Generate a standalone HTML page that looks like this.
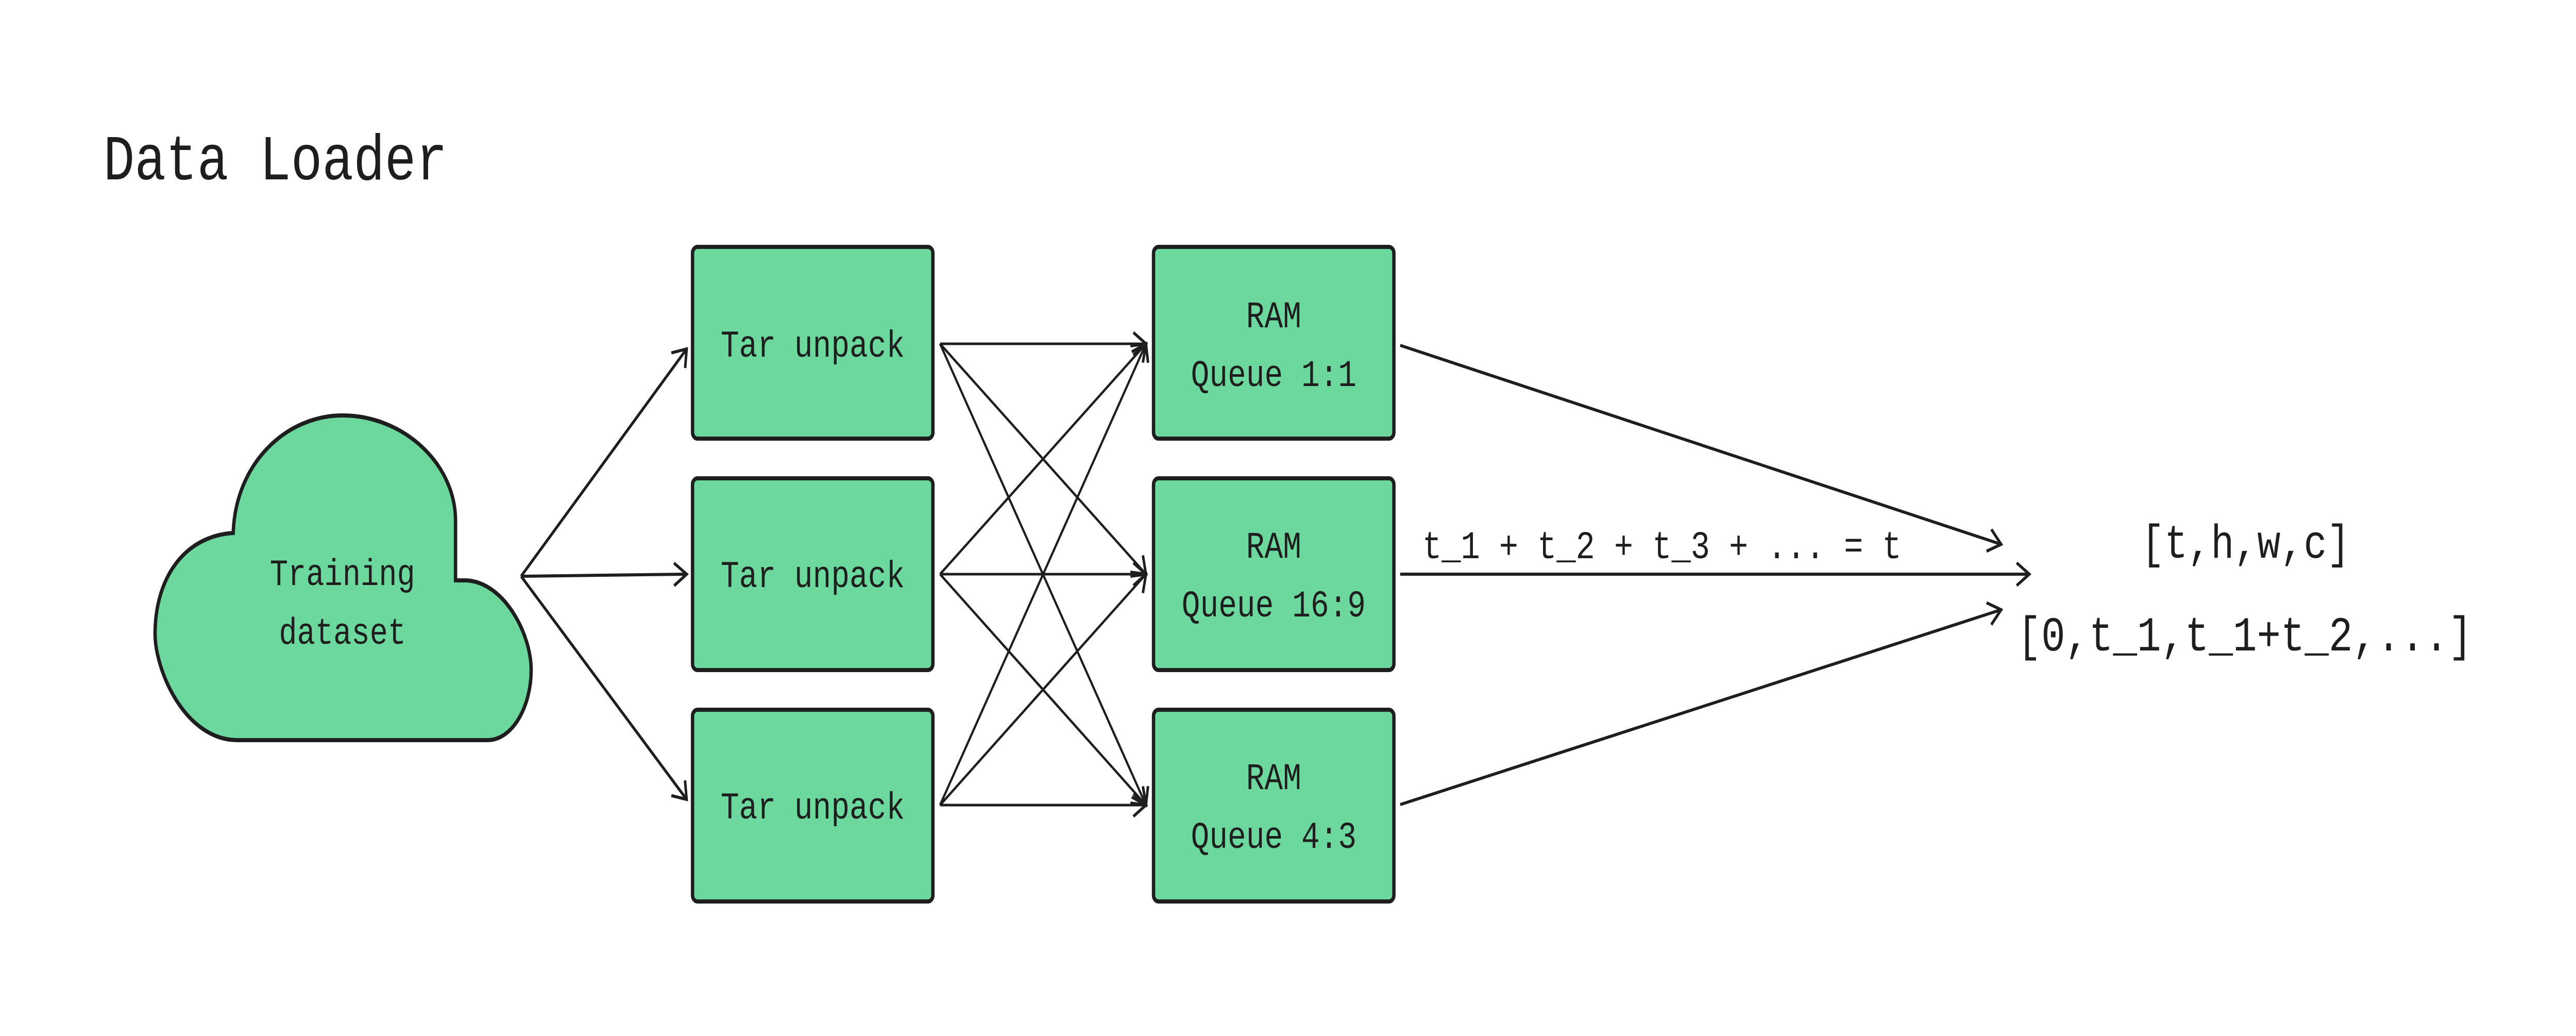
<!DOCTYPE html>
<html><head><meta charset="utf-8"><style>
html,body{margin:0;padding:0;background:#fff;overflow:hidden;width:100%;height:100%}
svg{display:block;width:100vw;height:100vh}
text{font-family:"Liberation Mono",monospace;fill:#1e1e1e}
</style></head><body>
<svg viewBox="0 0 6130 2010" preserveAspectRatio="none" xmlns="http://www.w3.org/2000/svg">
<defs>
<marker id="a" markerUnits="userSpaceOnUse" markerWidth="80" markerHeight="80" refX="60" refY="40" orient="auto">
<path d="M30,18 L60,40 L30,62" fill="none" stroke="#1e1e1e" stroke-width="6"/>
</marker>
</defs>
<rect width="6130" height="2010" fill="#fff"/>
<text x="246" y="348" font-size="124">Data Loader</text>

<path d="M555,1034 C560,900 680,806 815,806 C960,806 1084,900 1084,1010 L1084,1126 L1110,1126 C1200,1130 1264,1230 1264,1300 C1264,1370 1220,1436 1160,1436 L565,1436 C440,1436 369,1300 369,1230 C369,1120 440,1040 555,1034 Z" fill="#6cd89d" stroke="#1e1e1e" stroke-width="8"/>
<text x="815" y="1135" font-size="72" text-anchor="middle">Training</text>
<text x="815" y="1249" font-size="72" text-anchor="middle">dataset</text>

<g fill="#6cd89d" stroke="#1e1e1e" stroke-width="8">
<rect x="1648" y="479" width="572" height="372" rx="12"/>
<rect x="1648" y="928" width="572" height="372" rx="12"/>
<rect x="1648" y="1377" width="572" height="372" rx="12"/>
<rect x="2745" y="479" width="572" height="372" rx="12"/>
<rect x="2745" y="928" width="572" height="372" rx="12"/>
<rect x="2745" y="1377" width="572" height="372" rx="12"/>
</g>
<g font-size="73" text-anchor="middle">
<text x="1934" y="692">Tar unpack</text>
<text x="1934" y="1139">Tar unpack</text>
<text x="1934" y="1588">Tar unpack</text>
<text x="3031" y="635">RAM</text>
<text x="3031" y="749">Queue 1:1</text>
<text x="3031" y="1082">RAM</text>
<text x="3031" y="1196">Queue 16:9</text>
<text x="3031" y="1531">RAM</text>
<text x="3031" y="1645">Queue 4:3</text>
</g>

<g stroke="#1e1e1e" stroke-width="6" fill="none" marker-end="url(#a)">
<line x1="1240" y1="1118" x2="1634" y2="677"/>
<line x1="1240" y1="1118" x2="1634" y2="1114"/>
<line x1="1240" y1="1118" x2="1634" y2="1551"/>
</g>
<g stroke="#1e1e1e" stroke-width="5" fill="none" marker-end="url(#a)">
<line x1="2237" y1="667" x2="2727" y2="667"/>
<line x1="2237" y1="667" x2="2727" y2="1114"/>
<line x1="2237" y1="667" x2="2727" y2="1562"/>
<line x1="2237" y1="1114" x2="2727" y2="667"/>
<line x1="2237" y1="1114" x2="2727" y2="1114"/>
<line x1="2237" y1="1114" x2="2727" y2="1562"/>
<line x1="2237" y1="1562" x2="2727" y2="667"/>
<line x1="2237" y1="1562" x2="2727" y2="1114"/>
<line x1="2237" y1="1562" x2="2727" y2="1562"/>
</g>
<g stroke="#1e1e1e" stroke-width="6" fill="none" marker-end="url(#a)">
<line x1="3332" y1="670" x2="4762" y2="1056"/>
<line x1="3332" y1="1114" x2="4829" y2="1114"/>
<line x1="3332" y1="1561" x2="4762" y2="1183"/>
</g>
<text x="3385" y="1083" font-size="76">t_1 + t_2 + t_3 + ... = t</text>
<text x="5344" y="1082" font-size="92" text-anchor="middle">[t,h,w,c]</text>
<text x="5342" y="1262" font-size="95" text-anchor="middle">[0,t_1,t_1+t_2,...]</text>
</svg>
</body></html>
